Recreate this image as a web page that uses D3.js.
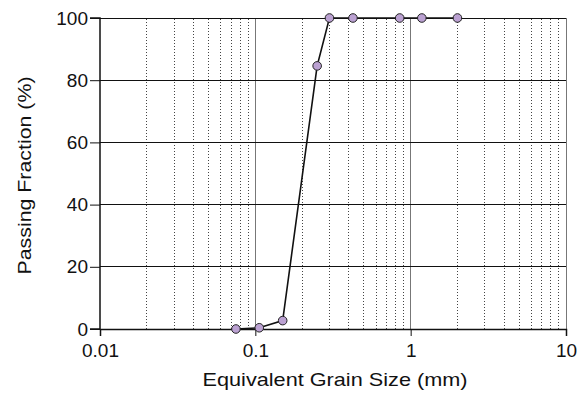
<!DOCTYPE html>
<html>
<head>
<meta charset="utf-8">
<script src="https://cdn.jsdelivr.net/npm/d3@7"></script>
<style>
  html, body { margin: 0; padding: 0; background: #fff; }
  svg { display: block; font-family: "Liberation Sans", Arial, sans-serif; }
</style>
</head>
<body>
<svg id="chart" width="579" height="395"></svg>
<script>
// Grain size distribution: size (mm) vs. passing fraction (%)
const grainSize = [0.075, 0.106, 0.15, 0.25, 0.3, 0.425, 0.85, 1.18, 2.0];
const passing   = [0, 0.4, 2.7, 84.6, 100, 100, 100, 100, 100];
const xTicks = [0.01, 0.1, 1, 10];
const xTickLabels = ["0.01", "0.1", "1", "10"];
const yTicks = [0, 20, 40, 60, 80, 100];

const svg = d3.select("#chart");
const margin = { left: 100, right: 13, top: 18, bottom: 66 };
const W = 579, H = 395;
const x = d3.scaleLog().domain([0.01, 10]).range([margin.left, W - margin.right]);
const y = d3.scaleLinear().domain([0, 100]).range([H - margin.bottom, margin.top]);

const g = svg.append("g");

// minor (dotted) vertical gridlines at 2..9 within each decade
const minor = [];
for (const d of [0.01, 0.1, 1]) for (let k = 2; k <= 9; k++) minor.push(d * k);
g.selectAll("line.minor").data(minor).enter().append("line")
  .attr("x1", d => x(d)).attr("x2", d => x(d))
  .attr("y1", y(0)).attr("y2", y(100))
  .attr("stroke", "#444").attr("stroke-width", 1)
  .attr("stroke-dasharray", "1.5,1.5").attr("shape-rendering", "crispEdges");

// major vertical gridlines at decades
g.selectAll("line.major").data([0.1, 1, 10]).enter().append("line")
  .attr("x1", d => x(d)).attr("x2", d => x(d))
  .attr("y1", y(0)).attr("y2", y(100))
  .attr("stroke", "#777").attr("stroke-width", 1).attr("shape-rendering", "crispEdges");

// horizontal gridlines
g.selectAll("line.h").data(yTicks.slice(1)).enter().append("line")
  .attr("x1", x(0.01)).attr("x2", x(10))
  .attr("y1", d => y(d)).attr("y2", d => y(d))
  .attr("stroke", "#111").attr("stroke-width", 1).attr("shape-rendering", "crispEdges");

// axes
const xAxis = d3.axisBottom(x).tickValues(xTicks)
  .tickFormat((d, i) => xTickLabels[i]).tickSize(7);
const yAxis = d3.axisLeft(y).tickValues(yTicks).tickSize(10).tickPadding(2);

const gx = svg.append("g").attr("transform", `translate(0,${y(0)})`).call(xAxis);
const gy = svg.append("g").attr("transform", `translate(${x(0.01)},0)`).call(yAxis);
[gx, gy].forEach(a => {
  a.select(".domain").attr("stroke", "#111").attr("stroke-width", 1.5);
  a.selectAll(".tick line").attr("stroke", "#111").attr("stroke-width", 1);
  a.selectAll("text").attr("font-size", 19).attr("fill", "#111")
    .attr("font-family", "Liberation Sans, Arial, sans-serif");
});
gx.selectAll(".tick text").attr("y", 28).attr("dy", 0);
gy.select(".domain").attr("d", `M-10,${y(0)}H0V${y(100)}H-10`);

// axis titles
svg.append("text").attr("x", (x(0.01) + x(10)) / 2 + 2).attr("y", 386)
  .attr("text-anchor", "middle").attr("font-size", 19).attr("fill", "#111")
  .attr("textLength", 265).attr("lengthAdjust", "spacingAndGlyphs")
  .text("Equivalent Grain Size (mm)");
svg.append("text")
  .attr("transform", `translate(31,${(y(0) + y(100)) / 2 + 2}) rotate(-90)`)
  .attr("text-anchor", "middle").attr("font-size", 19).attr("fill", "#111")
  .attr("textLength", 198).attr("lengthAdjust", "spacingAndGlyphs")
  .text("Passing Fraction (%)");

// curve and markers
const pts = grainSize.map((s, i) => [s, passing[i]]);
svg.append("path").datum(pts)
  .attr("fill", "none").attr("stroke", "#111").attr("stroke-width", 1.6)
  .attr("d", d3.line().x(d => x(d[0])).y(d => y(d[1])));
svg.selectAll("circle.pt").data(pts).enter().append("circle")
  .attr("cx", d => x(d[0])).attr("cy", d => y(d[1])).attr("r", 4.3)
  .attr("fill", "#bba1d2").attr("stroke", "#222").attr("stroke-width", 1);
</script>
</body>
</html>
